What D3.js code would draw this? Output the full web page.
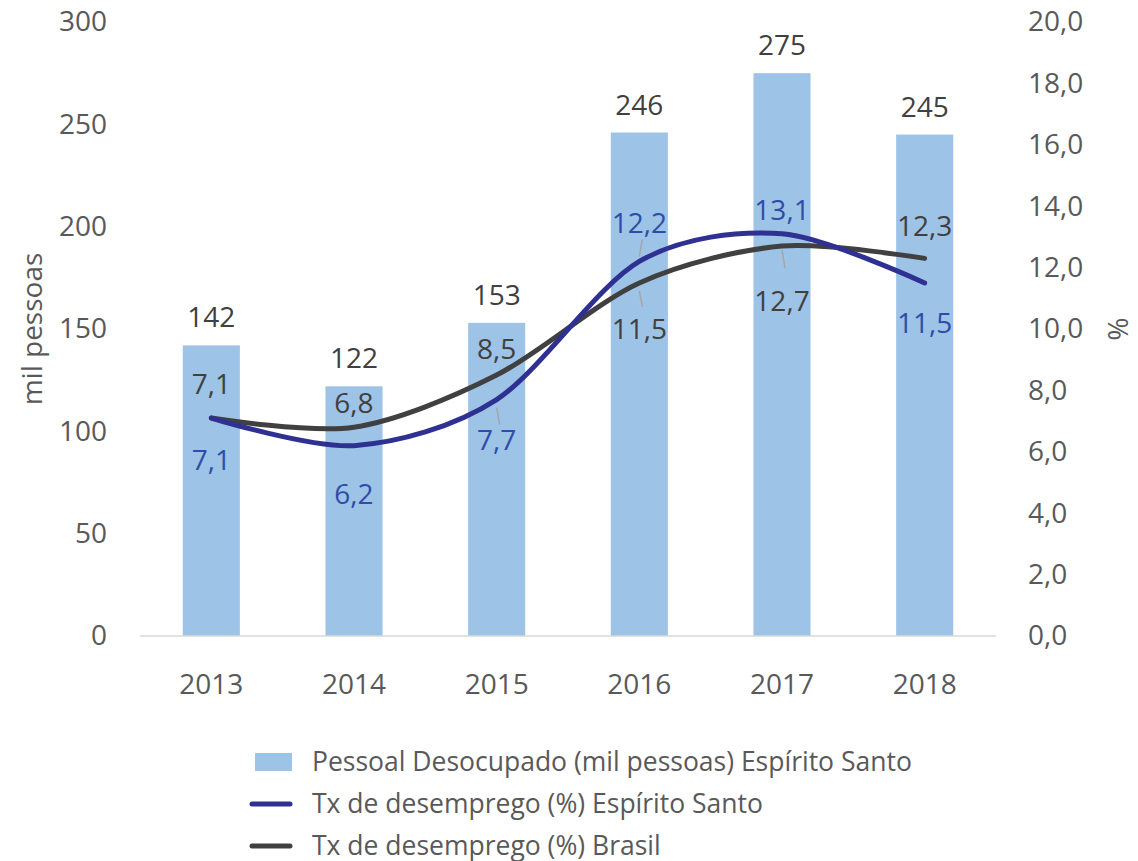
<!DOCTYPE html>
<html>
<head>
<meta charset="utf-8">
<script src="https://cdn.jsdelivr.net/npm/d3@7"></script>
<style>
  body { margin: 0; background: #fff; }
  text { font-family: "Open Sans", "Noto Sans", sans-serif; }
</style>
</head>
<body>
<div id="chart"></div>
<script>
var years = ['2013', '2014', '2015', '2016', '2017', '2018'];
var desocupados = [142, 122, 153, 246, 275, 245];
var txES = [7.1, 6.2, 7.7, 12.2, 13.1, 11.5];
var txBR = [7.1, 6.8, 8.5, 11.5, 12.7, 12.3];
var leftTicks = [0, 50, 100, 150, 200, 250, 300];
var rightTicks = [0, 2, 4, 6, 8, 10, 12, 14, 16, 18, 20];

// label placement: +1 above, -1 below
var posES = [-1, -1, -1, 1, 1, -1];
var posBR = [1, 1, 1, -1, -1, 1];

var W = 1138, H = 861;
var mLeft = 140, mRight = 996, mTop = 22, mBottom = 636;
var fs = 28;

var svg = d3.select('#chart').append('svg')
  .attr('width', W)
  .attr('height', H);

var x = d3.scaleBand().domain(years).range([mLeft, mRight]).paddingInner(0.6).paddingOuter(0.3);
var yL = d3.scaleLinear().domain([0, 300]).range([mBottom, mTop]);
var yR = d3.scaleLinear().domain([0, 20]).range([mBottom, mTop]);

var grey = '#595959';
var fmt = function(v) { return d3.format('.1f')(v).replace('.', ','); };

// bars
svg.append('g').selectAll('rect')
  .data(desocupados)
  .enter().append('rect')
  .attr('x', function(d, i) { return x(years[i]); })
  .attr('y', function(d) { return yL(d); })
  .attr('width', x.bandwidth())
  .attr('height', function(d) { return yL(0) - yL(d); })
  .attr('fill', '#9DC3E6');

// baseline
svg.append('line')
  .attr('x1', mLeft).attr('x2', mRight)
  .attr('y1', yL(0)).attr('y2', yL(0))
  .attr('stroke', '#D9D9D9').attr('stroke-width', 1.5);

// axes
var axL = svg.append('g').attr('transform', 'translate(' + (mLeft - 33) + ',0)')
  .call(d3.axisLeft(yL).tickValues(leftTicks).tickSize(0).tickPadding(0));
var axR = svg.append('g').attr('transform', 'translate(' + (mRight + 32) + ',0)')
  .call(d3.axisRight(yR).tickValues(rightTicks).tickSize(0).tickPadding(0).tickFormat(fmt));
var axB = svg.append('g').attr('transform', 'translate(0,' + (mBottom + 48) + ')')
  .call(d3.axisBottom(x).tickSize(0).tickPadding(0));
[axL, axR, axB].forEach(function(a) {
  a.select('.domain').remove();
  a.selectAll('text').attr('fill', grey).style('font-size', fs + 'px');
});
axB.selectAll('text').attr('dy', '0.35em');

// axis titles
svg.append('text')
  .attr('transform', 'translate(42,' + ((mTop + mBottom) / 2) + ') rotate(-90)')
  .attr('text-anchor', 'middle')
  .attr('fill', grey).style('font-size', fs + 'px')
  .text('mil pessoas');
svg.append('text')
  .attr('transform', 'translate(1108,' + ((mTop + mBottom) / 2) + ') rotate(90)')
  .attr('text-anchor', 'middle')
  .attr('fill', grey).style('font-size', fs + 'px')
  .text('%');

var cx = function(i) { return x(years[i]) + x.bandwidth() / 2; };

// lines (Excel-like smoothing)
var line = d3.line()
  .x(function(d, i) { return cx(i); })
  .y(function(d) { return yR(d); })
  .curve(d3.curveCardinal.tension(0.1));

svg.append('path').datum(txBR)
  .attr('d', line).attr('fill', 'none')
  .attr('stroke', '#404040').attr('stroke-width', 5).attr('stroke-linecap', 'round');
svg.append('path').datum(txES)
  .attr('d', line).attr('fill', 'none')
  .attr('stroke', '#2E3192').attr('stroke-width', 5).attr('stroke-linecap', 'round');

// bar labels
svg.append('g').selectAll('text')
  .data(desocupados)
  .enter().append('text')
  .attr('x', function(d, i) { return cx(i); })
  .attr('y', function(d) { return yL(d) - 18; })
  .attr('text-anchor', 'middle')
  .attr('fill', '#404040').style('font-size', fs + 'px')
  .text(function(d) { return d; });

// line labels
var drawLabels = function(vals, pos, color, offs) {
  svg.append('g').selectAll('text')
    .data(vals)
    .enter().append('text')
    .attr('x', function(d, i) { return cx(i); })
    .attr('y', function(d, i) { return yR(d) + (pos[i] > 0 ? -offs[i] : offs[i] + 20); })
    .attr('text-anchor', 'middle')
    .attr('fill', color).style('font-size', fs + 'px')
    .text(function(d) { return fmt(d); });
};
drawLabels(txBR, posBR, '#404040', [24, 14, 16, 36, 45, 22]);
drawLabels(txES, posES, '#2F4DA8', [32, 38, 30, 28, 14, 30]);

// leader lines (from label to point)
var leaders = [
  { i: 2, v: txES[2], dy1: 8, dy2: 25 },
  { i: 3, v: txES[3], dy1: -5, dy2: -22 },
  { i: 3, v: txBR[3], dy1: 8, dy2: 24 },
  { i: 4, v: txBR[4], dy1: 4, dy2: 22 }
];
svg.append('g').selectAll('line')
  .data(leaders)
  .enter().append('line')
  .attr('x1', function(d) { return cx(d.i); })
  .attr('x2', function(d) { return cx(d.i) + 3; })
  .attr('y1', function(d) { return yR(d.v) + d.dy1; })
  .attr('y2', function(d) { return yR(d.v) + d.dy2; })
  .attr('stroke', '#A6A6A6').attr('stroke-width', 1.5);

// legend
var legend = [
  { name: 'Pessoal Desocupado (mil pessoas) Espírito Santo', type: 'bar', color: '#9DC3E6' },
  { name: 'Tx de desemprego (%) Espírito Santo', type: 'line', color: '#2E3192' },
  { name: 'Tx de desemprego (%) Brasil', type: 'line', color: '#404040' }
];
var lg = svg.append('g').selectAll('g')
  .data(legend)
  .enter().append('g')
  .attr('transform', function(d, i) { return 'translate(250,' + (762 + i * 42) + ')'; });
lg.each(function(d) {
  var g = d3.select(this);
  if (d.type === 'bar') {
    g.append('rect').attr('x', 5).attr('y', -9).attr('width', 37).attr('height', 18).attr('fill', d.color);
  } else {
    g.append('line').attr('x1', 2).attr('x2', 40).attr('y1', 0).attr('y2', 0)
      .attr('stroke', d.color).attr('stroke-width', 5).attr('stroke-linecap', 'round');
  }
});
lg.append('text')
  .attr('x', 62).attr('dy', '0.35em')
  .attr('fill', grey).style('font-size', '26.5px')
  .text(function(d) { return d.name; });
</script>
</body>
</html>
